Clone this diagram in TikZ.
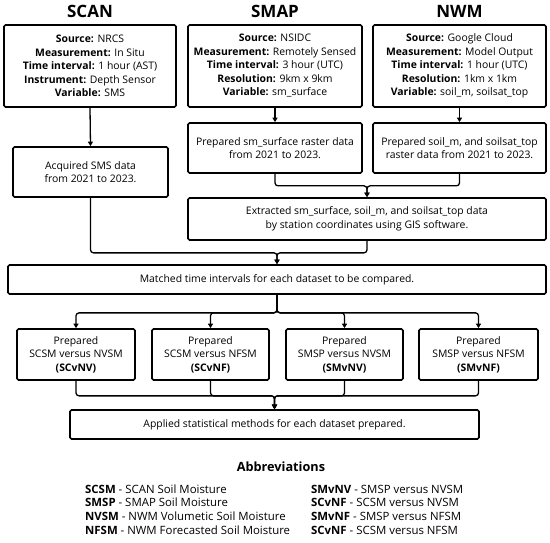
\documentclass[tikz,border=0pt]{standalone}
\usepackage{fontspec}
\setmainfont{Open Sans}
\usetikzlibrary{arrows.meta}
\begin{document}
\begin{tikzpicture}[x=1pt,y=-1pt,
 box/.style={draw,line width=1.7pt,rounded corners=1.5pt,align=center,font=\fontsize{10.4}{13.5}\selectfont,inner sep=0pt},
 conn/.style={line width=1.3pt,rounded corners=3pt},
 arr/.style={conn,-{Triangle[length=4.5pt,width=5pt]}},
 ttl/.style={font=\fontsize{17}{19}\selectfont\bfseries},
 abb/.style={align=left,anchor=west,inner sep=0pt,font=\fontsize{11.4}{13.7}\selectfont}]
\useasboundingbox (0,0) rectangle (550,543);
% titles
\node[ttl] (tscan) at (90,11) {SCAN};
\node[ttl] (tsmap) at (275,11) {SMAP};
\node[ttl] (tnwm) at (459.5,11) {NWM};
% top boxes
\node[box,minimum width=172,minimum height=82] (scan) at (90,66)
 {\textbf{Source:} NRCS\\\textbf{Measurement:} In Situ\\\textbf{Time interval:} 1 hour (AST)\\\textbf{Instrument:} Depth Sensor\\\textbf{Variable:} SMS};
\node[box,minimum width=174,minimum height=82] (smap) at (275,66)
 {\textbf{Source:} NSIDC\\\textbf{Measurement:} Remotely Sensed\\\textbf{Time interval:} 3 hour (UTC)\\\textbf{Resolution:} 9km x 9km\\\textbf{Variable:} sm\_surface};
\node[box,minimum width=173,minimum height=82] (nwm) at (459.5,66)
 {\textbf{Source:} Google Cloud\\\textbf{Measurement:} Model Output\\\textbf{Time interval:} 1 hour (UTC)\\\textbf{Resolution:} 1km x 1km\\\textbf{Variable:} soil\_m, soilsat\_top};
% second row
\node[box,minimum width=155,minimum height=50] (acq) at (90.5,172)
 {Acquired SMS data\\from 2021 to 2023.};
\node[box,minimum width=174,minimum height=50] (smapprep) at (275,148)
 {Prepared sm\_surface raster data\\from 2021 to 2023.};
\node[box,minimum width=173,minimum height=50] (nwmprep) at (459.5,148)
 {Prepared soil\_m, and soilsat\_top\\raster data from 2021 to 2023.};
\node[box,minimum width=358,minimum height=42] (ext) at (367,219)
 {Extracted sm\_surface, soil\_m, and soilsat\_top data\\by station coordinates using GIS software.};
\node[box,minimum width=538,minimum height=29] (match) at (277,279.5)
 {Matched time intervals for each dataset to be compared.};
% comparison boxes
\node[box,minimum width=118,minimum height=51] (b1) at (76,354.5)
 {Prepared\\SCSM versus NVSM\\\textbf{(SCvNV)}};
\node[box,minimum width=117,minimum height=51] (b2) at (210.5,354.5)
 {Prepared\\SCSM versus NFSM\\\textbf{(SCvNF)}};
\node[box,minimum width=117,minimum height=51] (b3) at (344.5,354.5)
 {Prepared\\SMSP versus NVSM\\\textbf{(SMvNV)}};
\node[box,minimum width=119,minimum height=51] (b4) at (478.5,354.5)
 {Prepared\\SMSP versus NFSM\\\textbf{(SMvNF)}};
\node[box,minimum width=409,minimum height=29] (app) at (274.5,424.5)
 {Applied statistical methods for each dataset prepared.};
% connectors
\draw[arr] (scan.south) -- (acq.north);
\draw[arr] (smap.south) -- (smapprep.north);
\draw[arr] (nwm.south) -- (nwmprep.north);
\draw[arr] (smapprep.south) -- ++(0,12) -| (ext.north);
\draw[arr] (nwmprep.south) -- ++(0,12) -| (ext.north);
\draw[arr] (acq.south) -- ++(0,55) -| (match.north);
\draw[arr] (ext.south) -- ++(0,12) -| (match.north);
\draw[arr] (match.south) -- ++(0,18) -| (b1.north);
\draw[arr] (match.south) -- ++(0,18) -| (b2.north);
\draw[arr] (match.south) -- ++(0,18) -| (b3.north);
\draw[arr] (match.south) -- ++(0,18) -| (b4.north);
\draw[arr] (b1.south) -- ++(0,15) -| (app.north);
\draw[arr] (b2.south) -- ++(0,15) -| (app.north);
\draw[arr] (b3.south) -- ++(0,15) -| (app.north);
\draw[arr] (b4.south) -- ++(0,15) -| (app.north);
% abbreviations
\node[font=\fontsize{12.7}{15}\selectfont\bfseries] (abbt) at (281,467) {Abbreviations};
\node[abb] (abl) at (85,509.5)
 {\textbf{SCSM} - SCAN Soil Moisture\\\textbf{SMSP} - SMAP Soil Moisture\\\textbf{NVSM} - NWM Volumetic Soil Moisture\\\textbf{NFSM} - NWM Forecasted Soil Moisture};
\node[abb] (abr) at (311,509.5)
 {\textbf{SMvNV} - SMSP versus NVSM\\\textbf{SCvNF} - SCSM versus NVSM\\\textbf{SMvNF} - SMSP versus NFSM\\\textbf{SCvNF} - SCSM versus NFSM};
\end{tikzpicture}
\end{document}
